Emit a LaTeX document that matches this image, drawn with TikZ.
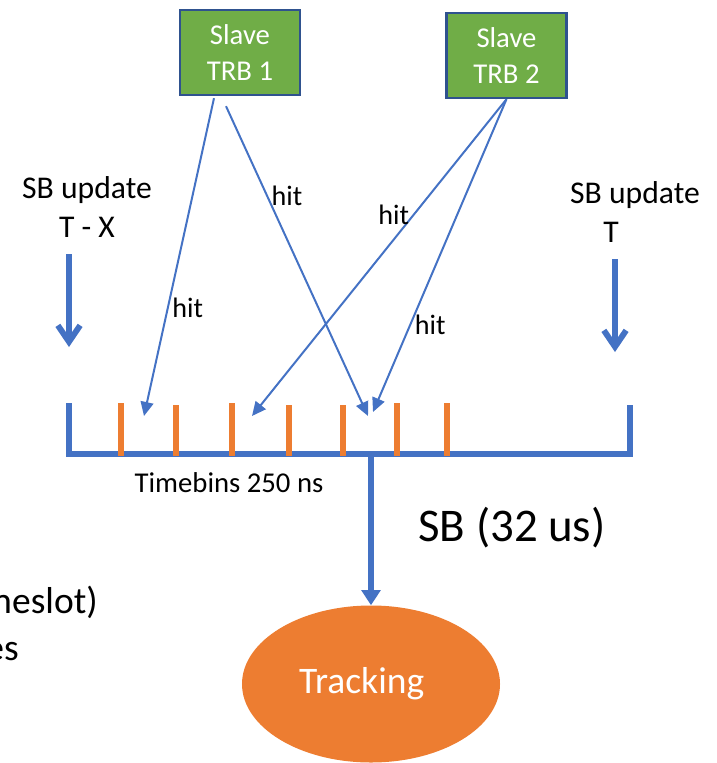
\documentclass[tikz,border=0pt]{standalone}
\usepackage{fontspec}
\setmainfont{Carlito}
\usepackage{tikz}
\usetikzlibrary{arrows.meta,positioning,shapes.geometric,calc}

\definecolor{sbblue}{HTML}{4472C4}
\definecolor{binorange}{HTML}{ED7D31}
\definecolor{trbgreen}{HTML}{70AD47}
\definecolor{trbborder}{HTML}{2F528F}

\begin{document}
\begin{tikzpicture}[x=0.03cm, y=-0.03cm,
		trb/.style={
			draw=trbborder,
			line width=2pt,
			fill=trbgreen,
			text=white,
			minimum width=3.6cm,
			minimum height=2.55cm,
			inner sep=0pt,
			align=center,
			font=\fontsize{24.5}{30}\selectfont
		},
		hitarrow/.style={-{Triangle[length=12pt,width=11pt]}, line width=1.7pt, color=sbblue},
		hitlab/.style={font=\fontsize{24}{28}\selectfont, text=black, inner sep=3pt},
		update/.style={align=center, font=\fontsize{27}{33}\selectfont},
		updarrow/.style={-{Straight Barb[length=14pt,width=19pt]}, line width=5pt, color=sbblue},
		sbline/.style={line width=4.3pt, color=sbblue},
		tbin/.style={line width=5pt, color=binorange},
		sbarrow/.style={-{Triangle[length=13pt,width=16pt]}, line width=4.3pt, color=sbblue},
		track/.style={
			ellipse,
			fill=binorange,
			text=white,
			minimum width=7.74cm,
			minimum height=4.71cm,
			inner sep=0pt,
			font=\fontsize{32}{38}\selectfont
		},
		note/.style={font=\fontsize{32}{41}\selectfont, inner sep=0pt, anchor=east}
		]
		\useasboundingbox (0,0) rectangle (716,763);
		
		% --- Slave TRBs ---
		\node[trb] (trb1) at (240,52.5) {Slave\\TRB 1};
		\node[trb] (trb2) at (506.5,55.5) {Slave\\TRB 2};
		
		% --- SB updates ---
		\node[update] (updl) at (87,207) {SB update\\T - X};
		\node[update, align=left] (updr) at (635,212) {SB update\\\hspace*{1.05em}T};
		\coordinate (updlstart) at (69,254);
		\coordinate (updlend) at (69,347);
		\coordinate (updrstart) at (615,259);
		\coordinate (updrend) at (615,352);
		\draw[updarrow] (updlstart) -- (updlend);
		\draw[updarrow] (updrstart) -- (updrend);
		
		% --- Timebins ---
		\draw[sbline] (69,403) -- (69,454) -- (630,454) -- (630,405);
		\foreach \x/\t in {121/403,176/405,232/403,289/405,343/405,397/403,447/403}
			\draw[tbin] (\x,\t) -- (\x,456);
		\coordinate (sbmid) at (371,454);
		\node[font=\fontsize{24.5}{29}\selectfont] (tbins) at (229,483) {Timebins 250 ns};
		\node[font=\fontsize{40}{48}\selectfont] (sbsize) at (512,528) {SB (32 us)};
		
		% --- Hits ---
		\coordinate (hit1) at (144,416);
		\coordinate (hit2) at (368,416);
		\coordinate (hit3) at (252,416);
		\coordinate (hit4) at (373,412);
		\draw[hitarrow] ($(trb1.south)+(-26,2)$) to node[pos=0.66, right, hitlab]{hit} (hit1);
		\draw[hitarrow] ($(trb1.south)+(-14,10)$) to node[pos=0.29, right, hitlab]{hit} (hit2);
		\draw[hitarrow] (trb2.south) to node[pos=0.365, left, hitlab]{hit} (hit3);
		\draw[hitarrow] (trb2.south) to node[pos=0.72, right, hitlab]{hit} (hit4);
		
		% --- Tracking ---
		\node[track] (track) at (371,684) {\hspace*{-0.5em}Tracking};
		\draw[sbarrow] (sbmid) -- (track.north);
		
		% --- cut text ---
		\node[note] (cut1) at (98,602) {meslot)};
		\node[note] (cut2) at (19,652) {es};
		
	\end{tikzpicture}
\end{document}
